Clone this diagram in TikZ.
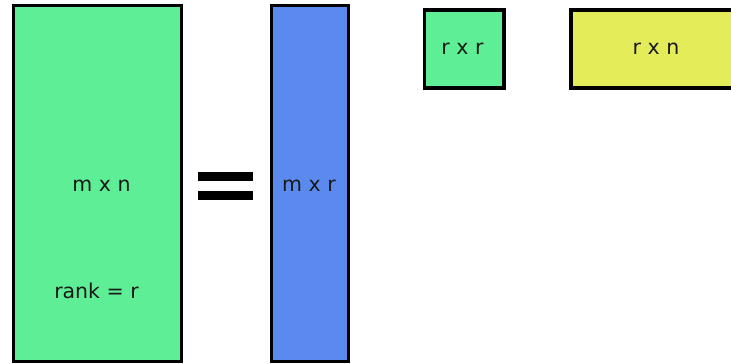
\documentclass[tikz,border=0pt]{standalone}
\usepackage{fontspec}
\setmainfont{DejaVu Sans}
\usepackage{xcolor}
\usetikzlibrary{positioning}

\definecolor{matgreen}{RGB}{94,238,150}
\definecolor{matblue}{RGB}{91,138,239}
\definecolor{matyellow}{RGB}{228,236,90}

\tikzset{
  matrixbox/.style={draw=black, line width=3.2pt, inner sep=0pt, anchor=center},
  dimlabel/.style={font=\fontsize{20.5}{23}\selectfont, text=black!90, inner sep=0pt, anchor=center}
}

\begin{document}
\begin{tikzpicture}[x=1pt, y=-1pt]
				\useasboundingbox (0, 0) rectangle (731, 364);
				% Matrices:
				\node[matrixbox, fill=matgreen, minimum width=168pt, minimum height=356pt](A) at (97.5, 183.5){};
				\node[matrixbox, fill=matblue, minimum width=77pt, minimum height=356pt](C) at (310, 183.5){};
				\node[matrixbox, fill=matgreen, minimum width=79.5pt, minimum height=78pt](U) at (464.25, 49){};
				\node[matrixbox, fill=matyellow, minimum width=180pt, minimum height=78pt](R) at (661, 49){};
				% Labels:
				\node[dimlabel](Asize) at (101.5, 186){m x n};
				\node[dimlabel](Arank) at (96.5, 291){rank = r};
				\node[dimlabel](Csize) at (309, 186){m x r};
				\node[dimlabel](Usize) at (462.5, 49){r x r};
				\node[dimlabel](Rsize) at (656, 49){r x n};
				% Equals sign:
				\fill[black] (198, 172) rectangle (253, 181);
				\fill[black] (198, 191) rectangle (253, 199.5);
			\end{tikzpicture}
\end{document}
